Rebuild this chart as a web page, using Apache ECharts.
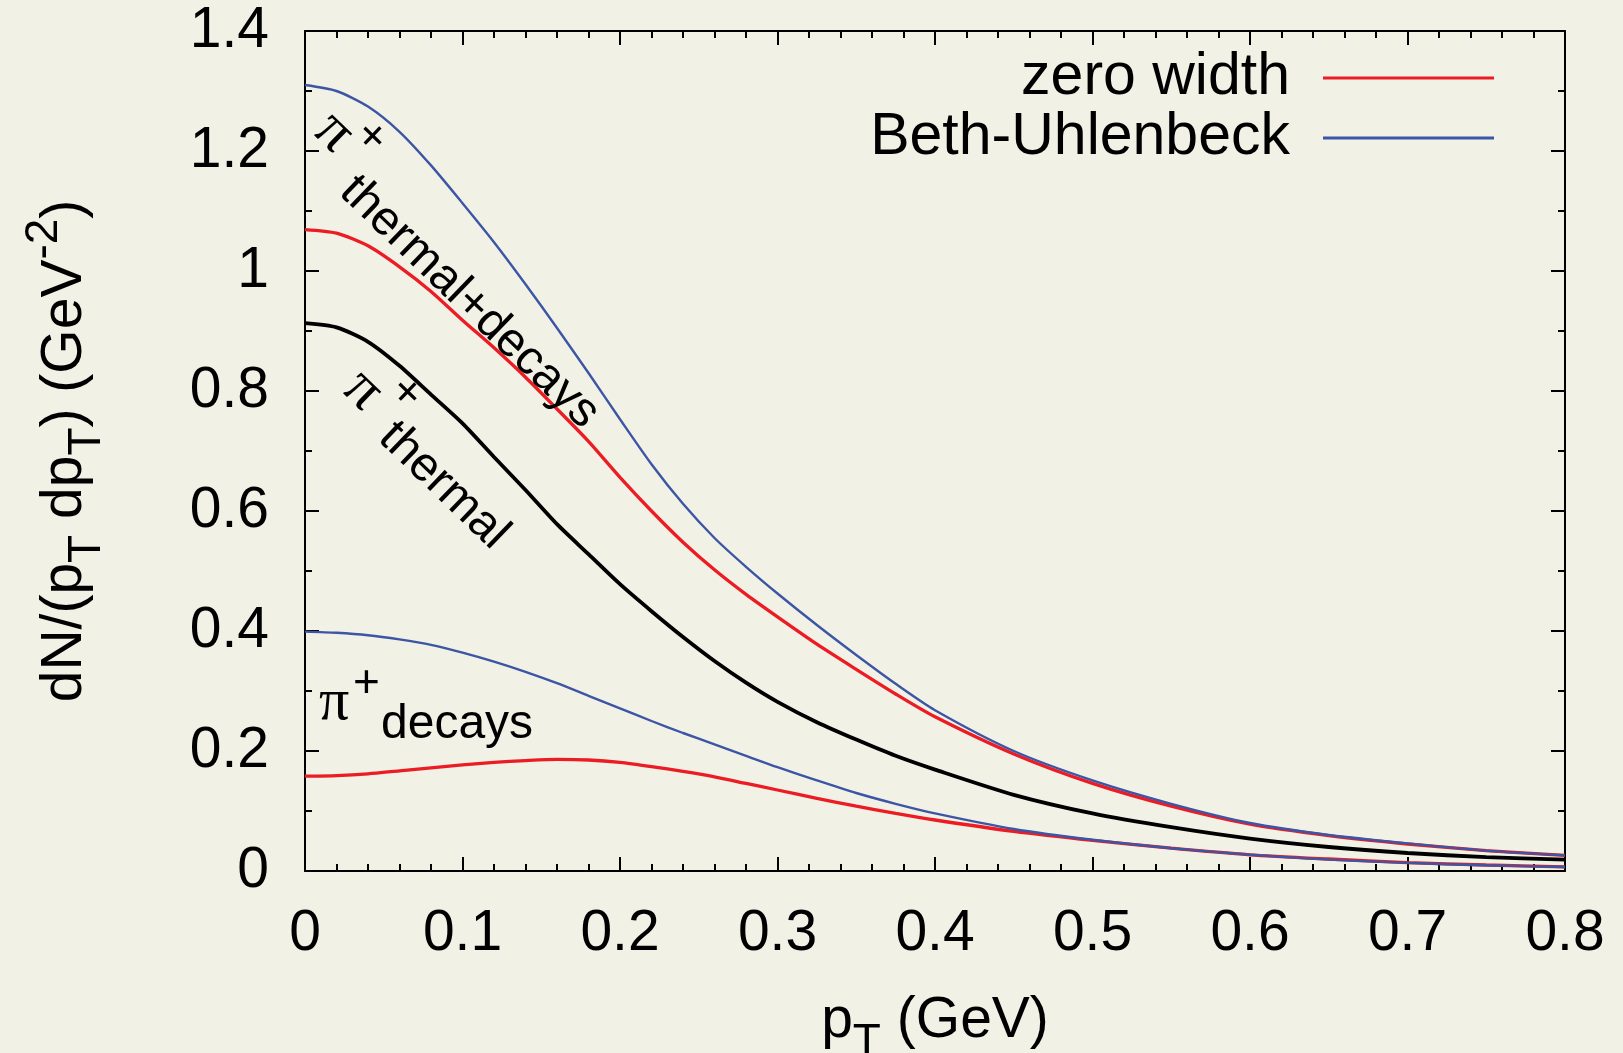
<!DOCTYPE html>
<html>
<head>
<meta charset="utf-8">
<script src="https://cdn.jsdelivr.net/npm/echarts@6/dist/echarts.min.js"></script>
<style>
    html, body { margin: 0; padding: 0; background: #f2f1e6; }
    #chart { width: 1623px; height: 1053px; }
</style>
</head>
<body>
<div id="chart"></div>
<script>
// transverse momentum grid (GeV)
const pT = [0, 0.02, 0.04, 0.06, 0.08, 0.1, 0.12, 0.14, 0.16, 0.18, 0.2, 0.22, 0.24, 0.26, 0.28,
    0.3, 0.325, 0.35, 0.375, 0.4, 0.45, 0.5, 0.55, 0.6, 0.65, 0.7, 0.75, 0.8];

// pi+ thermal
const thermal = [0.913, 0.906, 0.882, 0.842, 0.794, 0.746, 0.690, 0.635, 0.578, 0.528, 0.478, 0.433, 0.390, 0.350, 0.314,
    0.282, 0.248, 0.219, 0.192, 0.169, 0.127, 0.096, 0.073, 0.054, 0.040, 0.030, 0.023, 0.019];

// zero width: thermal+decays and decays
const zwTotal = [1.069, 1.063, 1.042, 1.007, 0.966, 0.918, 0.872, 0.823, 0.770, 0.716, 0.656, 0.600, 0.548, 0.502, 0.461,
    0.4235, 0.378, 0.336, 0.295, 0.257, 0.195, 0.146, 0.108, 0.078, 0.059, 0.045, 0.034, 0.026];
const zwDecays = [0.158, 0.159, 0.162, 0.167, 0.172, 0.177, 0.181, 0.184, 0.186, 0.185, 0.181, 0.174, 0.166, 0.157, 0.146,
    0.135, 0.121, 0.108, 0.096, 0.085, 0.066, 0.051, 0.038, 0.027, 0.020, 0.014, 0.010, 0.007];

// Beth-Uhlenbeck: thermal+decays and decays
const buTotal = [1.310, 1.300, 1.274, 1.232, 1.176, 1.113, 1.048, 0.978, 0.905, 0.830, 0.753, 0.678, 0.612, 0.555, 0.507,
    0.4625, 0.410, 0.360, 0.312, 0.268, 0.200, 0.151, 0.112, 0.080, 0.060, 0.046, 0.034, 0.026];
const buDecays = [0.399, 0.397, 0.393, 0.386, 0.377, 0.364, 0.349, 0.332, 0.313, 0.292, 0.271, 0.250, 0.230, 0.211, 0.192,
    0.173, 0.151, 0.130, 0.112, 0.096, 0.070, 0.052, 0.038, 0.027, 0.019, 0.0135, 0.0095, 0.0067];

const xTicks = { min: 0, max: 0.8, interval: 0.1 };
const yTicks = { min: 0, max: 1.4, interval: 0.2 };

const FONT = '"Liberation Sans", Arial, Helvetica, sans-serif';
const SERIF = '"Liberation Serif", "DejaVu Serif", serif';
const RED = '#ec1c24';
const BLUE = '#3c55a5';
const ROT = -44 * Math.PI / 180;

const zip = (ys) => pT.map((x, i) => [x, ys[i]]);

const curve = (name, ys, color, width) => ({
    name: name,
    type: 'line',
    data: zip(ys),
    symbol: 'none',
    smooth: 0.25,
    lineStyle: { color: color, width: width },
    itemStyle: { color: color },
    z: 3
});

const frameX = (pos, labels) => ({
    type: 'value',
    position: pos,
    min: xTicks.min,
    max: xTicks.max,
    interval: xTicks.interval,
    axisLine: { show: true, onZero: false, lineStyle: { color: '#000', width: 2 } },
    axisTick: { show: true, inside: true, length: 14, lineStyle: { color: '#000', width: 2 } },
    minorTick: { show: true, splitNumber: 5, length: 7, lineStyle: { color: '#000', width: 2 } },
    splitLine: { show: false },
    axisLabel: { show: labels, color: '#000', fontSize: 57, fontFamily: FONT, margin: 35, lineHeight: 57 }
});

const frameY = (pos, labels) => ({
    type: 'value',
    position: pos,
    min: yTicks.min,
    max: yTicks.max,
    interval: yTicks.interval,
    axisLine: { show: true, onZero: false, lineStyle: { color: '#000', width: 2 } },
    axisTick: { show: true, inside: true, length: 14, lineStyle: { color: '#000', width: 2 } },
    minorTick: { show: true, splitNumber: 2, length: 7, lineStyle: { color: '#000', width: 2 } },
    splitLine: { show: false },
    axisLabel: { show: labels, color: '#000', fontSize: 57, fontFamily: FONT, margin: 36 }
});

// sub/superscripts: shifted with padding inside a 57px line
const mainStyle = { fontSize: 57, fontFamily: FONT, color: '#000', lineHeight: 57 };
const subStyle = { fontSize: 46, fontFamily: FONT, color: '#000', lineHeight: 10, verticalAlign: 'top', padding: [27, 0, 0, 0] };
const supStyle = { fontSize: 46, fontFamily: FONT, color: '#000', lineHeight: 10, verticalAlign: 'bottom', padding: [0, 0, 27, 0] };

const txt = (x, y, text, font, rot) => ({
    type: 'text',
    x: x,
    y: y,
    rotation: rot || 0,
    z: 10,
    style: { text: text, font: font, fill: '#000', align: 'left', verticalAlign: 'middle' }
});

const chart = echarts.init(document.getElementById('chart'));

const xMain = frameX('bottom', true);
xMain.name = '{m|p}{sub|T}{m| (GeV)}';
xMain.nameLocation = 'middle';
xMain.nameGap = 122;
xMain.nameTextStyle = { rich: { m: mainStyle, sub: subStyle } };

const yMain = frameY('left', true);
yMain.name = '{m|dN/(p}{sub|T}{m| dp}{sub|T}{m|) (GeV}{sup|-2}{m|)}';
yMain.nameLocation = 'middle';
yMain.nameGap = 211;
yMain.nameTextStyle = { rich: { m: mainStyle, sub: subStyle, sup: supStyle } };

chart.setOption({
    animation: false,
    backgroundColor: '#f2f1e6',
    textStyle: { fontFamily: FONT },
    grid: { left: 305, right: 58, top: 31, bottom: 182, containLabel: false, outerBoundsMode: 'none' },
    xAxis: [xMain, frameX('top', false)],
    yAxis: [yMain, frameY('right', false)],
    legend: {
        data: [
            { name: 'zero width', icon: 'rect', itemStyle: { color: RED } },
            { name: 'Beth-Uhlenbeck', icon: 'rect', itemStyle: { color: BLUE } }
        ],
        orient: 'vertical',
        right: 129,
        top: 48,
        padding: 0,
        align: 'right',
        itemWidth: 171,
        itemHeight: 3,
        itemGap: 0,
        selectedMode: false,
        textStyle: { color: '#000', fontSize: 59, fontFamily: FONT, lineHeight: 60, padding: [0, 28, 0, 0] }
    },
    series: [
        curve('thermal', thermal, '#000', 3.8),
        curve('zero width', zwTotal, RED, 3.3),
        curve('zero width', zwDecays, RED, 3.3),
        curve('Beth-Uhlenbeck', buTotal, BLUE, 2.4),
        curve('Beth-Uhlenbeck', buDecays, BLUE, 2.4)
    ],
    graphic: [
        // pi+ thermal+decays
        txt(323, 122, 'π', '60px ' + SERIF, ROT),
        txt(361, 128, '+', '46px ' + FONT, ROT),
        txt(347, 184, 'thermal+decays', '48px ' + FONT, ROT),
        // pi+ thermal
        txt(352, 380, 'π', '60px ' + SERIF, ROT),
        txt(396, 384, '+', '46px ' + FONT, ROT),
        txt(386, 430, 'thermal', '48px ' + FONT, ROT),
        // pi+ decays
        txt(319, 703, 'π', '60px ' + SERIF),
        txt(353, 684, '+', '46px ' + FONT),
        txt(381, 725, 'decays', '48px ' + FONT)
    ]
});
</script>
</body>
</html>
